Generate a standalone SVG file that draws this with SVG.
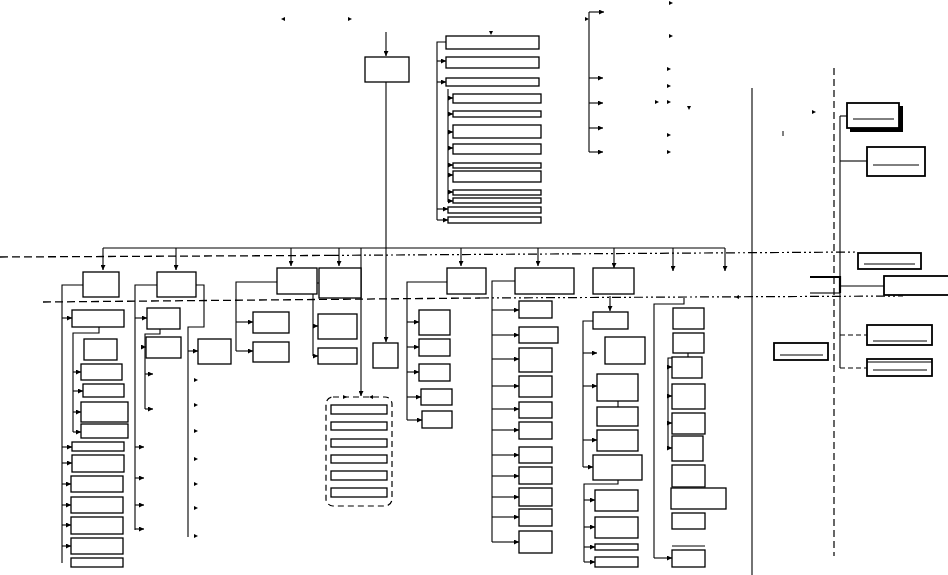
<svg xmlns="http://www.w3.org/2000/svg" xmlns:xlink="http://www.w3.org/1999/xlink" width="948" height="575" viewBox="0 0 948 575">
<style>
.b{fill:#fff;stroke:#000;stroke-width:1.3}
.rb{fill:#fff;stroke:#000;stroke-width:1.8}
.c{fill:none;stroke:#000;stroke-width:1.1}
.ca{fill:none;stroke:#000;stroke-width:1.1;marker-end:url(#a)}
.d1{fill:none;stroke:#000;stroke-width:1.3;stroke-dasharray:8,4}
.d2{fill:none;stroke:#000;stroke-width:1.2;stroke-dasharray:9,3,2,3,2,3}
.vd{fill:none;stroke:#000;stroke-width:1.2;stroke-dasharray:7,4}
.il{stroke:#000;stroke-width:1}
</style>
<defs>
<marker id="a" viewBox="0 0 6 6" refX="6" refY="3" markerWidth="5" markerHeight="5" orient="auto" markerUnits="userSpaceOnUse"><path d="M0,0 L6,3 L0,6 z"/></marker>
<path id="ah" d="M-4,-2 L0,0 L-4,2 z"/>
</defs>
<rect width="948" height="575" fill="#fff"/>

<g id="guides">
<path class="d1" d="M0,257 L330,255.4"/>
<path class="d2" d="M330,255.4 L858,252"/>
<path class="d1" d="M43,302 L480,298"/>
<path class="d2" d="M480,298 L903,296"/>
<path class="c" d="M752,88 V575" stroke-width="1.2"/>
<path class="vd" d="M834,68 V556"/>
</g>

<g id="connectors">
<path class="ca" d="M386,32 V56"/>
<path class="ca" d="M386,82 V342"/>
<path class="c" d="M103,248 H725"/>
<path class="ca" d="M103,248 V270"/>
<path class="ca" d="M176,248 V270"/>
<path class="ca" d="M291,248 V266"/>
<path class="ca" d="M339,248 V266"/>
<path class="ca" d="M361,248 V396"/>
<path class="ca" d="M461,248 V266"/>
<path class="ca" d="M538,248 V266"/>
<path class="ca" d="M614,248 V268"/>
<path class="ca" d="M673,248 V271"/>
<path class="ca" d="M725,248 V271"/>
<!-- upper tree -->
<path class="c" d="M446,42 H437 V220"/>
<path class="ca" d="M437,61 H446"/>
<path class="ca" d="M437,82 H446"/>
<path class="ca" d="M437,209 H448"/>
<path class="ca" d="M437,220 H448"/>
<path class="c" d="M448,89 V202"/>
<path class="ca" d="M448,98 H453"/>
<path class="ca" d="M448,114 H453"/>
<path class="ca" d="M448,132 H453"/>
<path class="ca" d="M448,148 H453"/>
<path class="ca" d="M448,165 H453"/>
<path class="ca" d="M448,175 H453"/>
<path class="ca" d="M448,192 H453"/>
<path class="ca" d="M448,201 H453"/>
<!-- top-right tree -->
<path class="c" d="M589,12 V152"/>
<path class="ca" d="M589,12 H604"/>
<path class="ca" d="M589,78 H603"/>
<path class="ca" d="M589,103 H603"/>
<path class="ca" d="M589,128 H603"/>
<path class="ca" d="M589,152 H603"/>
<!-- column 1 -->
<path class="c" d="M83,285 H62 V563"/>
<path class="ca" d="M62,318 H72"/>
<path class="ca" d="M62,447 H72"/>
<path class="ca" d="M62,463 H72"/>
<path class="ca" d="M62,484 H71"/>
<path class="ca" d="M62,505 H71"/>
<path class="ca" d="M62,525 H71"/>
<path class="ca" d="M62,546 H71"/>
<path class="c" d="M99,327 V333 H73 V432"/>
<path class="ca" d="M73,372 H81"/>
<path class="ca" d="M73,391 H83"/>
<path class="ca" d="M73,412 H81"/>
<path class="ca" d="M73,432 H81"/>
<!-- column 2 -->
<path class="c" d="M157,285 H135 V530"/>
<path class="ca" d="M135,318 H147"/>
<path class="ca" d="M135,447 H144"/>
<path class="ca" d="M135,478 H144"/>
<path class="ca" d="M135,505 H144"/>
<path class="ca" d="M135,529 H144"/>
<path class="c" d="M160,329 V334 H145 V409"/>
<path class="ca" d="M145,347 H146"/>
<path class="ca" d="M145,374 H153"/>
<path class="ca" d="M145,409 H153"/>
<path class="c" d="M196,285 H204 V327 H188 V537"/>
<path class="ca" d="M188,351 H198"/>
<!-- column 3 / 4 -->
<path class="c" d="M277,282 H236 V351"/>
<path class="ca" d="M236,322 H253"/>
<path class="ca" d="M236,351 H253"/>
<path class="c" d="M319,283 H313 V356"/>
<path class="ca" d="M313,326 H318"/>
<path class="ca" d="M313,356 H318"/>
<!-- column 5 -->
<path class="c" d="M447,282 H407 V420"/>
<path class="ca" d="M407,322 H419"/>
<path class="ca" d="M407,347 H419"/>
<path class="ca" d="M407,372 H419"/>
<path class="ca" d="M407,397 H421"/>
<path class="ca" d="M407,420 H422"/>
<!-- column 6 -->
<path class="c" d="M515,281 H492 V542"/>
<path class="ca" d="M492,310 H519"/>
<path class="ca" d="M492,335 H519"/>
<path class="ca" d="M492,359 H519"/>
<path class="ca" d="M492,386 H519"/>
<path class="ca" d="M492,409 H519"/>
<path class="ca" d="M492,430 H519"/>
<path class="ca" d="M492,455 H519"/>
<path class="ca" d="M492,476 H519"/>
<path class="ca" d="M492,497 H519"/>
<path class="ca" d="M492,517 H519"/>
<path class="ca" d="M492,542 H519"/>
<!-- column 7 -->
<path class="ca" d="M610,296 V311"/>
<path class="c" d="M593,321 H583 V467"/>
<path class="ca" d="M583,353 H597"/>
<path class="ca" d="M583,386 H597"/>
<path class="ca" d="M583,440 H597"/>
<path class="ca" d="M583,467 H593"/>
<path class="c" d="M618,401 V407"/>
<path class="c" d="M618,480 V484 H584 V562"/>
<path class="ca" d="M584,500 H595"/>
<path class="ca" d="M584,527 H595"/>
<path class="ca" d="M584,547 H595"/>
<path class="ca" d="M584,562 H595"/>
<!-- column 8 -->
<path class="c" d="M684,298 V304 H654 V558"/>
<path class="ca" d="M654,558 H672"/>
<path class="c" d="M688,353 V358 H668 V448"/>
<path class="ca" d="M668,367 H672"/>
<path class="ca" d="M668,396 H672"/>
<path class="ca" d="M668,423 H672"/>
<path class="ca" d="M668,448 H672"/>
<!-- right side -->
<path class="c" d="M840,116 V368"/>
<path class="c" d="M840,116 H847"/>
<path class="c" d="M840,161 H867"/>
<path class="c" d="M840,286 H884"/>
<path d="M810,277 H840 V293" fill="none" stroke="#000" stroke-width="2.2"/>
<path class="c" d="M810,293 H840"/>
<path class="c" d="M840,335 H867" stroke-dasharray="5,3"/>
<path class="c" d="M840,368 H867" stroke-dasharray="5,3"/>
<!-- loose arrowheads -->
<g fill="#000">
<use xlink:href="#ah" transform="translate(281,19) rotate(180)"/>
<use xlink:href="#ah" transform="translate(352,19)"/>
<use xlink:href="#ah" transform="translate(491,35) rotate(90)"/>
<use xlink:href="#ah" transform="translate(589,19)"/>
<use xlink:href="#ah" transform="translate(673,3)"/>
<use xlink:href="#ah" transform="translate(673,36)"/>
<use xlink:href="#ah" transform="translate(671,69)"/>
<use xlink:href="#ah" transform="translate(671,86)"/>
<use xlink:href="#ah" transform="translate(659,102)"/>
<use xlink:href="#ah" transform="translate(671,102)"/>
<use xlink:href="#ah" transform="translate(689,110) rotate(90)"/>
<use xlink:href="#ah" transform="translate(671,135)"/>
<use xlink:href="#ah" transform="translate(671,152)"/>
<use xlink:href="#ah" transform="translate(816,112)"/>
<use xlink:href="#ah" transform="translate(735,297) rotate(180)"/>
<use xlink:href="#ah" transform="translate(198,380)"/>
<use xlink:href="#ah" transform="translate(198,405)"/>
<use xlink:href="#ah" transform="translate(198,431)"/>
<use xlink:href="#ah" transform="translate(198,459)"/>
<use xlink:href="#ah" transform="translate(198,484)"/>
<use xlink:href="#ah" transform="translate(198,508)"/>
<use xlink:href="#ah" transform="translate(198,536)"/>
<use xlink:href="#ah" transform="translate(347,397)"/>
<use xlink:href="#ah" transform="translate(369,397) rotate(180)"/>
</g>
<path d="M783,131 V136" stroke="#000" stroke-width="1"/>
</g>

<g id="n-top"><rect class="b" x="365" y="57" width="44" height="25"/></g>

<g id="n-t1"><rect class="b" x="446" y="36" width="93" height="13"/></g>
<g id="n-t2"><rect class="b" x="446" y="57" width="93" height="11"/></g>
<g id="n-t3"><rect class="b" x="446" y="78" width="93" height="8"/></g>
<g id="n-t4"><rect class="b" x="453" y="94" width="88" height="9"/></g>
<g id="n-t5"><rect class="b" x="453" y="111" width="88" height="6"/></g>
<g id="n-t6"><rect class="b" x="453" y="125" width="88" height="13"/></g>
<g id="n-t7"><rect class="b" x="453" y="144" width="88" height="10"/></g>
<g id="n-t8"><rect class="b" x="453" y="163" width="88" height="5"/></g>
<g id="n-t9"><rect class="b" x="453" y="171" width="88" height="11"/></g>
<g id="n-t10"><rect class="b" x="453" y="190" width="88" height="5"/></g>
<g id="n-t11"><rect class="b" x="453" y="198" width="88" height="5"/></g>
<g id="n-t12"><rect class="b" x="448" y="207" width="93" height="6"/></g>
<g id="n-t13"><rect class="b" x="448" y="217" width="93" height="6"/></g>

<g id="n-c1"><rect class="b" x="83" y="272" width="36" height="25"/></g>
<g id="n-c2"><rect class="b" x="157" y="272" width="39" height="25"/></g>
<g id="n-c3"><rect class="b" x="277" y="268" width="40" height="26"/></g>
<g id="n-c4"><rect class="b" x="319" y="268" width="42" height="30"/></g>
<g id="n-c5"><rect class="b" x="447" y="268" width="39" height="26"/></g>
<g id="n-c6"><rect class="b" x="515" y="268" width="59" height="26"/></g>
<g id="n-c7"><rect class="b" x="593" y="268" width="41" height="26"/></g>

<g id="n-l1"><rect class="b" x="72" y="310" width="52" height="17"/></g>
<g id="n-l2"><rect class="b" x="84" y="339" width="33" height="21"/></g>
<g id="n-l3"><rect class="b" x="81" y="364" width="41" height="16"/></g>
<g id="n-l4"><rect class="b" x="83" y="384" width="41" height="13"/></g>
<g id="n-l5"><rect class="b" x="81" y="402" width="47" height="20"/></g>
<g id="n-l6"><rect class="b" x="81" y="424" width="47" height="14"/></g>
<g id="n-l7"><rect class="b" x="72" y="442" width="52" height="9"/></g>
<g id="n-l8"><rect class="b" x="72" y="455" width="52" height="17"/></g>
<g id="n-l9"><rect class="b" x="71" y="476" width="52" height="16"/></g>
<g id="n-l10"><rect class="b" x="71" y="497" width="52" height="16"/></g>
<g id="n-l11"><rect class="b" x="71" y="517" width="52" height="17"/></g>
<g id="n-l12"><rect class="b" x="71" y="538" width="52" height="16"/></g>
<g id="n-l13"><rect class="b" x="71" y="558" width="52" height="9"/></g>

<g id="n-m1"><rect class="b" x="147" y="308" width="33" height="21"/></g>
<g id="n-m2"><rect class="b" x="146" y="337" width="35" height="21"/></g>
<g id="n-m3"><rect class="b" x="198" y="339" width="33" height="25"/></g>

<g id="n-k1"><rect class="b" x="253" y="312" width="36" height="21"/></g>
<g id="n-k2"><rect class="b" x="253" y="342" width="36" height="20"/></g>
<g id="n-k3"><rect class="b" x="318" y="314" width="39" height="25"/></g>
<g id="n-k4"><rect class="b" x="318" y="348" width="39" height="16"/></g>
<g id="n-k5"><rect class="b" x="373" y="343" width="25" height="25"/></g>

<g id="n-grp">
<rect x="326" y="397" width="66" height="109" rx="7" fill="none" stroke="#000" stroke-width="1.2" stroke-dasharray="6,4"/>
<rect class="b" x="331" y="405" width="56" height="9"/>
<rect class="b" x="331" y="422" width="56" height="8"/>
<rect class="b" x="331" y="439" width="56" height="8"/>
<rect class="b" x="331" y="455" width="56" height="8"/>
<rect class="b" x="331" y="471" width="56" height="9"/>
<rect class="b" x="331" y="488" width="56" height="9"/>
</g>

<g id="n-p1"><rect class="b" x="419" y="310" width="31" height="25"/></g>
<g id="n-p2"><rect class="b" x="419" y="339" width="31" height="17"/></g>
<g id="n-p3"><rect class="b" x="419" y="364" width="31" height="17"/></g>
<g id="n-p4"><rect class="b" x="421" y="389" width="31" height="16"/></g>
<g id="n-p5"><rect class="b" x="422" y="411" width="30" height="17"/></g>

<g id="n-q1"><rect class="b" x="519" y="301" width="33" height="17"/></g>
<g id="n-q2"><rect class="b" x="519" y="327" width="39" height="16"/></g>
<g id="n-q3"><rect class="b" x="519" y="348" width="33" height="24"/></g>
<g id="n-q4"><rect class="b" x="519" y="376" width="33" height="21"/></g>
<g id="n-q5"><rect class="b" x="519" y="402" width="33" height="16"/></g>
<g id="n-q6"><rect class="b" x="519" y="422" width="33" height="17"/></g>
<g id="n-q7"><rect class="b" x="519" y="447" width="33" height="16"/></g>
<g id="n-q8"><rect class="b" x="519" y="467" width="33" height="17"/></g>
<g id="n-q9"><rect class="b" x="519" y="488" width="33" height="18"/></g>
<g id="n-q10"><rect class="b" x="519" y="509" width="33" height="17"/></g>
<g id="n-q11"><rect class="b" x="519" y="531" width="33" height="22"/></g>

<g id="n-s1"><rect class="b" x="593" y="312" width="35" height="17"/></g>
<g id="n-s2"><rect class="b" x="605" y="337" width="40" height="27"/></g>
<g id="n-s3"><rect class="b" x="597" y="374" width="41" height="27"/></g>
<g id="n-s4"><rect class="b" x="597" y="407" width="41" height="19"/></g>
<g id="n-s5"><rect class="b" x="597" y="430" width="41" height="21"/></g>
<g id="n-s6"><rect class="b" x="593" y="455" width="49" height="25"/></g>
<g id="n-s7"><rect class="b" x="595" y="490" width="43" height="21"/></g>
<g id="n-s8"><rect class="b" x="595" y="517" width="43" height="21"/></g>
<g id="n-s9"><rect class="b" x="595" y="544" width="43" height="6"/></g>
<g id="n-s10"><rect class="b" x="595" y="557" width="43" height="10"/></g>

<g id="n-u1"><rect class="b" x="673" y="308" width="31" height="21"/></g>
<g id="n-u2"><rect class="b" x="673" y="333" width="31" height="20"/></g>
<g id="n-u3"><rect class="b" x="672" y="357" width="30" height="21"/></g>
<g id="n-u4"><rect class="b" x="672" y="384" width="33" height="25"/></g>
<g id="n-u5"><rect class="b" x="672" y="413" width="33" height="21"/></g>
<g id="n-u6"><rect class="b" x="672" y="436" width="31" height="25"/></g>
<g id="n-u7"><rect class="b" x="672" y="465" width="33" height="22"/></g>
<g id="n-u8"><rect class="b" x="671" y="488" width="55" height="21"/></g>
<g id="n-u9"><rect class="b" x="672" y="513" width="33" height="16"/></g>
<g id="n-u10"><path class="il" d="M672,546 H705"/><rect class="b" x="672" y="550" width="33" height="17"/></g>

<g id="n-r1"><rect x="850" y="106" width="53" height="26" fill="#000"/><rect class="rb" x="847" y="103" width="52" height="25"/><path class="il" d="M853,119 H894"/></g>
<g id="n-r2"><rect class="rb" x="867" y="147" width="58" height="29"/><path class="il" d="M873,165 H919"/></g>
<g id="n-r3"><rect class="rb" x="858" y="253" width="63" height="16" stroke-width="2.6"/><path class="il" d="M864,264 H915"/></g>
<g id="n-r4"><rect class="rb" x="884" y="276" width="66" height="19"/></g>
<g id="n-r5"><rect class="rb" x="867" y="325" width="65" height="20"/><path class="il" d="M873,341 H927"/></g>
<g id="n-r6"><rect class="rb" x="867" y="359" width="65" height="17"/><path class="il" d="M867,362 H932"/><path class="il" d="M873,370 H927"/></g>
<g id="n-r7"><rect class="rb" x="774" y="343" width="54" height="17"/><path class="il" d="M780,355 H823"/></g>
</svg>
